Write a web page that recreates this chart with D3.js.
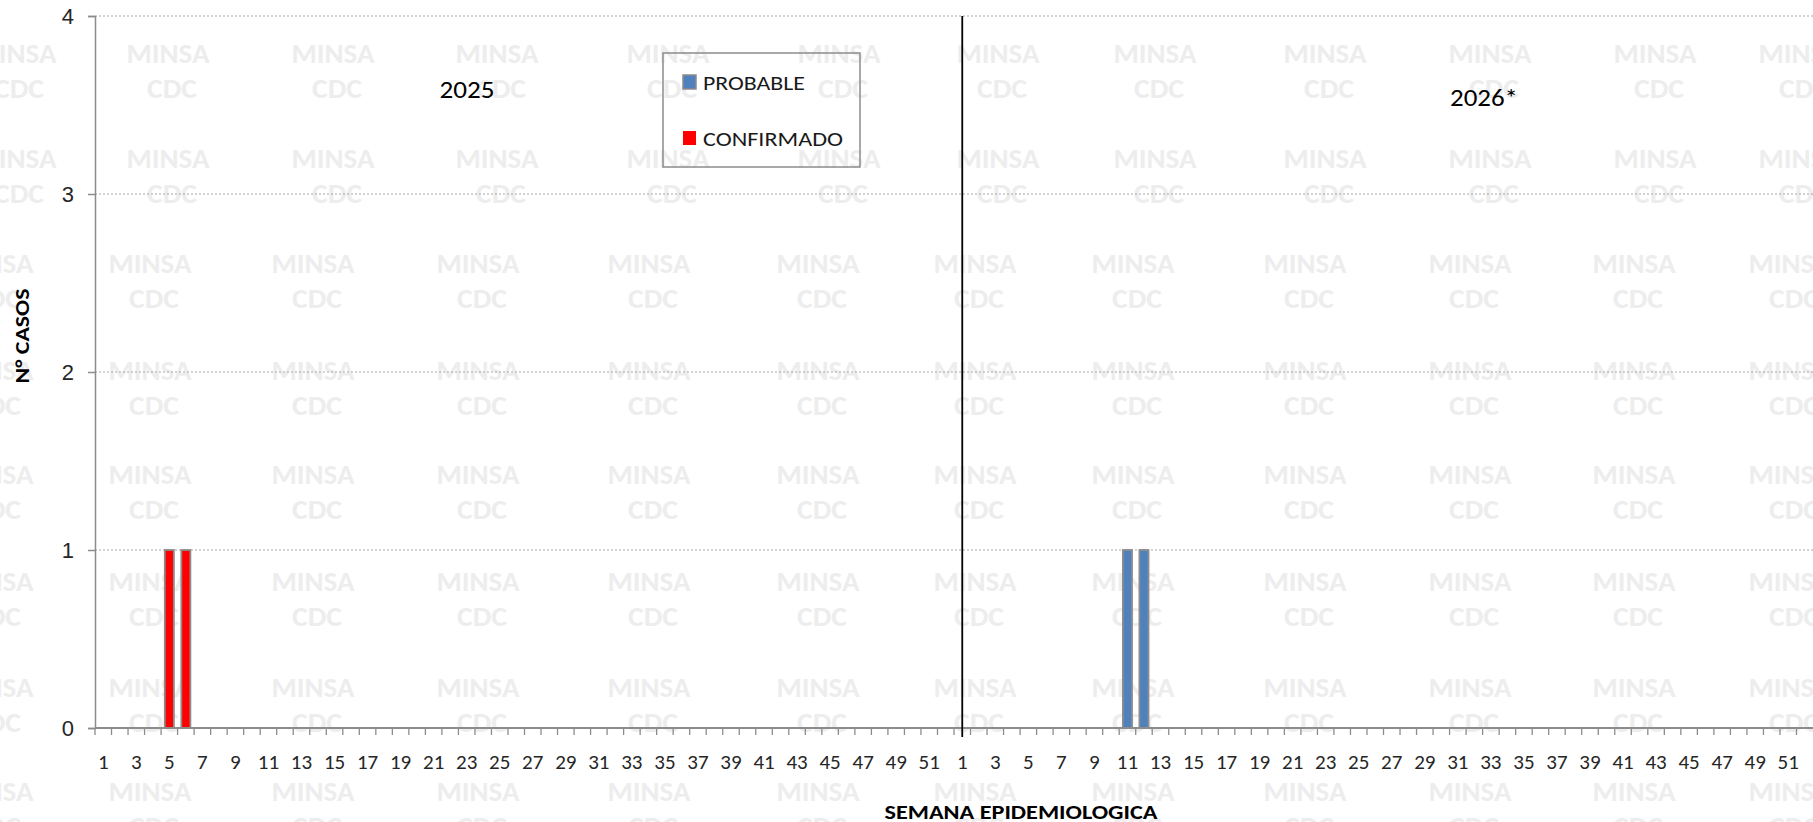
<!DOCTYPE html>
<html>
<head>
<meta charset="utf-8">
<style>
  body { margin: 0; background: #fff; }
  svg { display: block; font-family: Carlito, Lato, "Open Sans", sans-serif; }
</style>
</head>
<body>
<div id="chart"></div>
<script src="https://d3js.org/d3.v7.min.js"></script>
<script>
  // datos
  const years = [2025, 2026];
  const weeksPerYear = 52;
  const seriesKeys = ['CONFIRMADO', 'PROBABLE'];
  const seriesColors = { PROBABLE: '#4f81bd', CONFIRMADO: '#ff0000' };
  // casos por semana (el resto de semanas = 0)
  const probableCases = [
    { year: 2026, week: 11, value: 1 },
    { year: 2026, week: 12, value: 1 }
  ];
  const confirmedCases = [
    { year: 2025, week: 5, value: 1 },
    { year: 2025, week: 6, value: 1 }
  ];
  const yTicks = [0, 1, 2, 3, 4];
  const yearLabels = ['2025', '2026*'];

  const W = 1813, H = 822;
  const plotLeft = 95, plotRight = 1813, plotTop = 16, plotBottom = 728;

  // categorias año-semana
  const categories = [];
  years.forEach(yr => {
    for (let w = 1; w <= weeksPerYear; w++) categories.push({ key: yr + '-' + w, year: yr, week: w });
  });

  const rows = categories.map(c => {
    const p = probableCases.find(d => d.year === c.year && d.week === c.week);
    const k = confirmedCases.find(d => d.year === c.year && d.week === c.week);
    return { key: c.key, year: c.year, week: c.week,
             PROBABLE: p ? p.value : 0, CONFIRMADO: k ? k.value : 0 };
  });

  const svg = d3.select('#chart').append('svg')
    .attr('width', W).attr('height', H);

  // marca de agua
  const wmRowsY = [53, 158, 263, 370, 474, 581, 687, 791];
  const wmColsA = [15, 168, 333, 497, 668, 839, 998, 1155, 1325, 1490, 1655, 1800];
  const wmColsB = [-8, 150, 313, 478, 649, 818, 975, 1133, 1305, 1470, 1634, 1790];
  const wm = svg.append('g').attr('class', 'watermark')
    .style('fill', '#ededed').style('font-weight', 'bold').style('font-size', '29px')
    .attr('pointer-events', 'none');
  wmRowsY.forEach((yy, i) => {
    const cols = i < 2 ? wmColsA : wmColsB;
    cols.forEach(xx => {
      wm.append('text').attr('x', xx).attr('y', yy).attr('dy', '0.36em')
        .attr('text-anchor', 'middle').attr('textLength', 83).attr('lengthAdjust', 'spacingAndGlyphs')
        .text('MINSA');
      wm.append('text').attr('x', xx + 4).attr('y', yy + 35).attr('dy', '0.36em')
        .attr('text-anchor', 'middle').attr('textLength', 50).attr('lengthAdjust', 'spacingAndGlyphs')
        .text('CDC');
    });
  });

  const x = d3.scaleBand().domain(categories.map(c => c.key)).range([plotLeft, plotRight]).padding(0);
  const y = d3.scaleLinear().domain([0, 4]).range([plotBottom, plotTop]);

  // grilla
  svg.append('g').selectAll('line').data(yTicks.filter(t => t > 0)).enter()
    .append('line')
    .attr('x1', plotLeft).attr('x2', plotRight)
    .attr('y1', d => y(d)).attr('y2', d => y(d))
    .attr('stroke', '#a6a6a6').attr('stroke-width', 1).attr('stroke-dasharray', '2,2');

  // barras apiladas
  const stack = d3.stack().keys(seriesKeys)(rows);
  const barW = x.bandwidth() * 0.55;
  svg.append('g').selectAll('g').data(stack).enter()
    .append('g').attr('fill', d => seriesColors[d.key])
    .selectAll('rect').data(d => d.filter(s => s[1] - s[0] > 0)).enter()
    .append('rect')
    .attr('x', d => x(d.data.key) + (x.bandwidth() - barW) / 2)
    .attr('width', barW)
    .attr('y', d => y(d[1]))
    .attr('height', d => y(d[0]) - y(d[1]))
    .attr('stroke', '#8c8c8c').attr('stroke-width', 1.8);

  // eje Y
  const yAxis = svg.append('g').attr('transform', `translate(${plotLeft},0)`)
    .call(d3.axisLeft(y).tickValues(yTicks).tickFormat(d3.format('d')).tickSize(7).tickPadding(14));
  yAxis.select('.domain').attr('stroke', '#8c8c8c').attr('stroke-width', 1.5);
  yAxis.selectAll('.tick line').attr('stroke', '#8c8c8c').attr('stroke-width', 1.5);
  yAxis.selectAll('.tick text').style('font-size', '22px').attr('fill', '#262626');

  // eje X
  const xg = svg.append('g');
  xg.append('line').attr('x1', plotLeft).attr('x2', plotRight).attr('y1', plotBottom).attr('y2', plotBottom)
    .attr('stroke', '#8c8c8c').attr('stroke-width', 1.8);
  xg.selectAll('line.tk').data(categories).enter().append('line').attr('class', 'tk')
    .attr('x1', d => x(d.key)).attr('x2', d => x(d.key))
    .attr('y1', plotBottom).attr('y2', plotBottom + 7)
    .attr('stroke', '#8c8c8c').attr('stroke-width', 1.3);
  xg.selectAll('text').data(categories.filter(c => c.week % 2 === 1)).enter().append('text')
    .attr('x', d => x(d.key) + x.bandwidth() / 2)
    .attr('y', 761).attr('dy', '0.36em')
    .attr('text-anchor', 'middle')
    .style('font-size', '21px').attr('fill', '#262626')
    .text(d => d.week);

  // separador de años
  const sepX = x(years[1] + '-1') + x.bandwidth() / 2;
  svg.append('line').attr('x1', sepX).attr('x2', sepX).attr('y1', plotTop).attr('y2', 737)
    .attr('stroke', '#000').attr('stroke-width', 1.8);

  // etiquetas de año
  svg.append('text').attr('x', 467).attr('y', 89).attr('dy', '0.36em').attr('text-anchor', 'middle')
    .attr('textLength', 55).attr('lengthAdjust', 'spacingAndGlyphs')
    .style('font-size', '25px').attr('fill', '#000').text(yearLabels[0]);
  svg.append('text').attr('x', 1484).attr('y', 97).attr('dy', '0.36em').attr('text-anchor', 'middle')
    .attr('textLength', 68).attr('lengthAdjust', 'spacingAndGlyphs')
    .style('font-size', '25px').attr('fill', '#000').text(yearLabels[1]);

  // titulos de ejes
  svg.append('text').attr('transform', 'translate(22,336) rotate(-90)')
    .attr('text-anchor', 'middle').attr('dy', '0.36em')
    .attr('textLength', 95).attr('lengthAdjust', 'spacingAndGlyphs')
    .style('font-size', '20px').style('font-weight', 'bold').attr('fill', '#000')
    .text('N° CASOS');
  svg.append('text').attr('x', 1021).attr('y', 812).attr('dy', '0.36em').attr('text-anchor', 'middle')
    .attr('textLength', 273).attr('lengthAdjust', 'spacingAndGlyphs')
    .style('font-size', '20px').style('font-weight', 'bold').attr('fill', '#000')
    .text('SEMANA EPIDEMIOLOGICA');

  // leyenda
  const lg = svg.append('g');
  lg.append('rect').attr('x', 663).attr('y', 53).attr('width', 197).attr('height', 114)
    .attr('fill', 'none').attr('stroke', '#8c8c8c').attr('stroke-width', 1.5);
  const legendItems = ['PROBABLE', 'CONFIRMADO'];
  const legendWidths = [102, 140];
  legendItems.forEach((k, i) => {
    const cy = 82 + i * 56;
    lg.append('rect').attr('x', 683).attr('y', cy - 7).attr('width', 13).attr('height', 14)
      .attr('fill', seriesColors[k])
      .attr('stroke', k === 'PROBABLE' ? '#8c8c8c' : 'none').attr('stroke-width', 1.5);
    lg.append('text').attr('x', 703).attr('y', cy).attr('dy', '0.36em')
      .attr('textLength', legendWidths[i]).attr('lengthAdjust', 'spacingAndGlyphs')
      .style('font-size', '21px').attr('fill', '#1a1a1a').text(k);
  });
</script>
</body>
</html>
